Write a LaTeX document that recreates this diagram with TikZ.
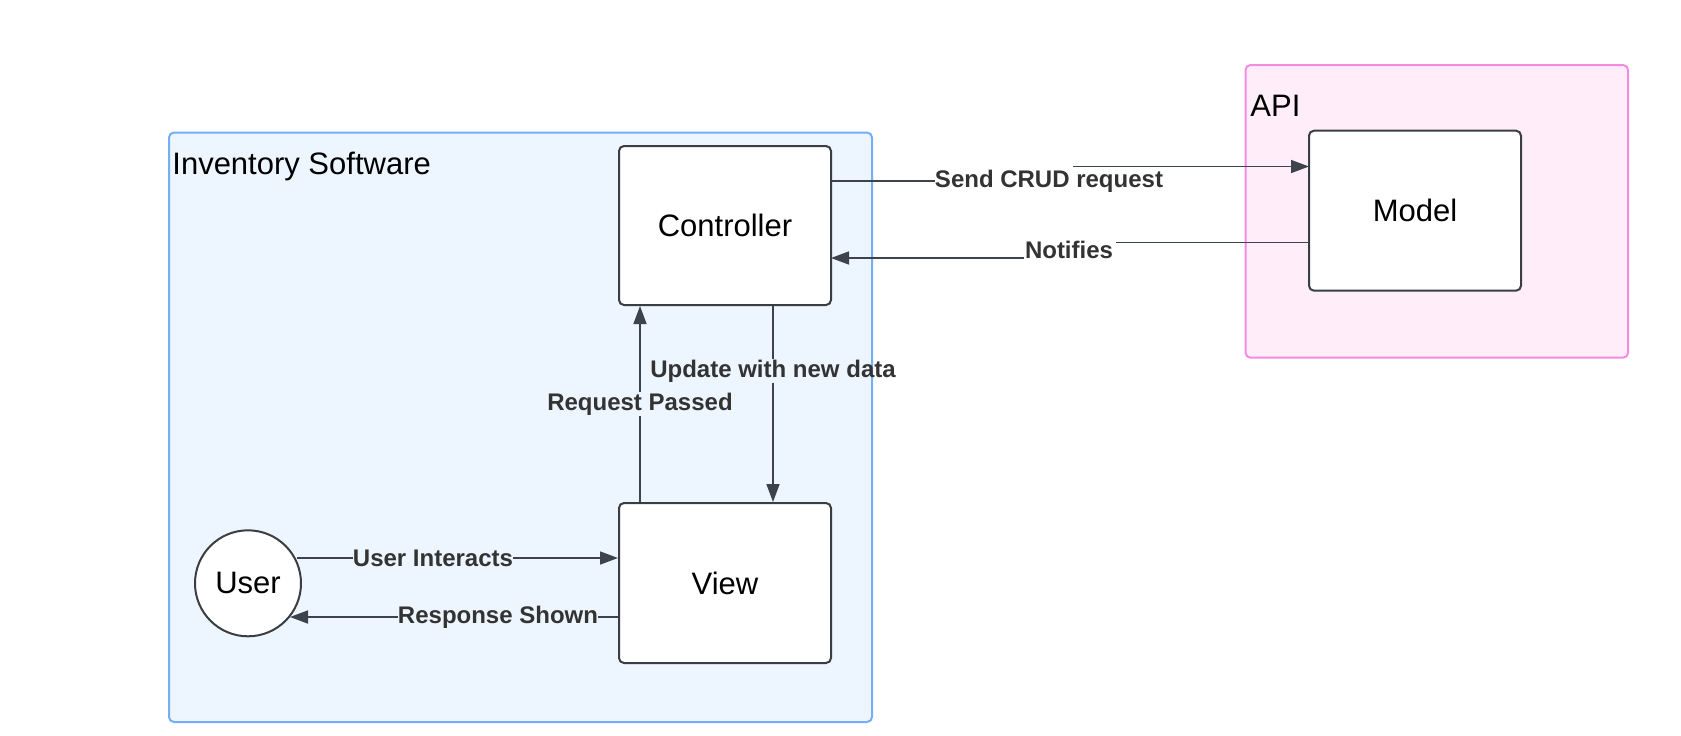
\documentclass[tikz,border=0pt]{standalone}
\usepackage{fontspec}
\setmainfont{Liberation Sans}
\usetikzlibrary{arrows.meta}
\definecolor{grpblue}{HTML}{EDF5FF}
\definecolor{grpblueline}{HTML}{74AEF6}
\definecolor{grppink}{HTML}{FFEEFA}
\definecolor{grppinkline}{HTML}{F48BE3}
\definecolor{edgecol}{HTML}{3D434C}
\definecolor{nodeline}{HTML}{3A3D42}
\definecolor{lbltext}{HTML}{333333}
\tikzset{
  grp/.style={draw, line width=1pt, rounded corners=2.5pt, anchor=north west, inner sep=0pt},
  box/.style={draw=nodeline, fill=white, line width=1pt, rounded corners=2.5pt,
    minimum width=106pt, minimum height=80pt, inner sep=0pt, font=\fontsize{15.5}{18}\selectfont},
  usr/.style={draw=nodeline, fill=white, line width=1pt, circle, minimum size=53pt, inner sep=0pt,
    font=\fontsize{15.5}{18}\selectfont},
  grplbl/.style={anchor=west, inner sep=0pt, font=\fontsize{15.5}{18}\selectfont},
  elbl/.style={inner sep=0pt, text=lbltext, font=\bfseries\fontsize{12}{14}\selectfont},
  conn/.style={draw=edgecol, line width=0.75pt},
  arr/.style={conn, -{Triangle[length=9pt,width=6.5pt]}}
}
\begin{document}
\begin{tikzpicture}[x=0.5pt,y=-0.5pt]
\useasboundingbox (0,0) rectangle (1681,735);
% groups
\node[grp, draw=grpblueline, fill=grpblue, minimum width=351.5pt, minimum height=294.75pt] (inv) at (168,131.5) {};
\node[grplbl] (invlbl) at (172,166) {Inventory Software};
\node[grp, draw=grppinkline, fill=grppink, minimum width=191.25pt, minimum height=146.35pt] (api) at (1244.5,64) {};
\node[grplbl] (apilbl) at (1250,106) {API};
% nodes
\node[box, minimum height=79.5pt] (ctrl) at (725,225.5) {Controller};
\node[box] (view) at (725,583) {View};
\node[box] (model) at (1415,210.7) {Model};
\node[usr] (user) at (248,583.3) {User};
% edge labels
\node[elbl] (lreq) at (640,404) {Request Passed};
\node[elbl] (lupd) at (773,371) {Update with new data};
\node[elbl] (lui) at (433,558) {User Interacts};
\node[elbl] (lrs) at (498,617) {Response Shown};
\node[elbl] (lcrud) at (1049,181) {Send CRUD request};
\node[elbl] (lnot) at (1069,250) {Notifies};
% helper coordinates
\coordinate (crudA) at (831,181);
\coordinate (crudB) at (1073,166.5);
\coordinate (crudC) at (1309,166.5);
\coordinate (notA) at (1309,242.7);
\coordinate (notB) at (1116,242.7);
\coordinate (notC) at (1024,258);
\coordinate (notD) at (831,258);
% connectors
\draw[conn] (view.north -| lreq) -- (lreq.south);
\draw[arr] (lreq.north) -- (ctrl.south -| lreq);
\draw[conn] (ctrl.south -| lupd) -- (lupd.north);
\draw[arr] (lupd.south) -- (view.north -| lupd);
\draw[conn] (user.east |- lui) ++(-5,0) -- (lui.west);
\draw[arr] (lui.east) -- (view.west |- lui);
\draw[conn] (view.west |- lrs) -- (lrs.east);
\draw[arr] (lrs.west) -- (290,617);
\draw[conn] (crudA) -- (lcrud.west);
\draw[arr] (crudB) -- (crudC);
\draw[conn] (notA) -- (notB);
\draw[arr] (notC) -- (notD);
\end{tikzpicture}
\end{document}
